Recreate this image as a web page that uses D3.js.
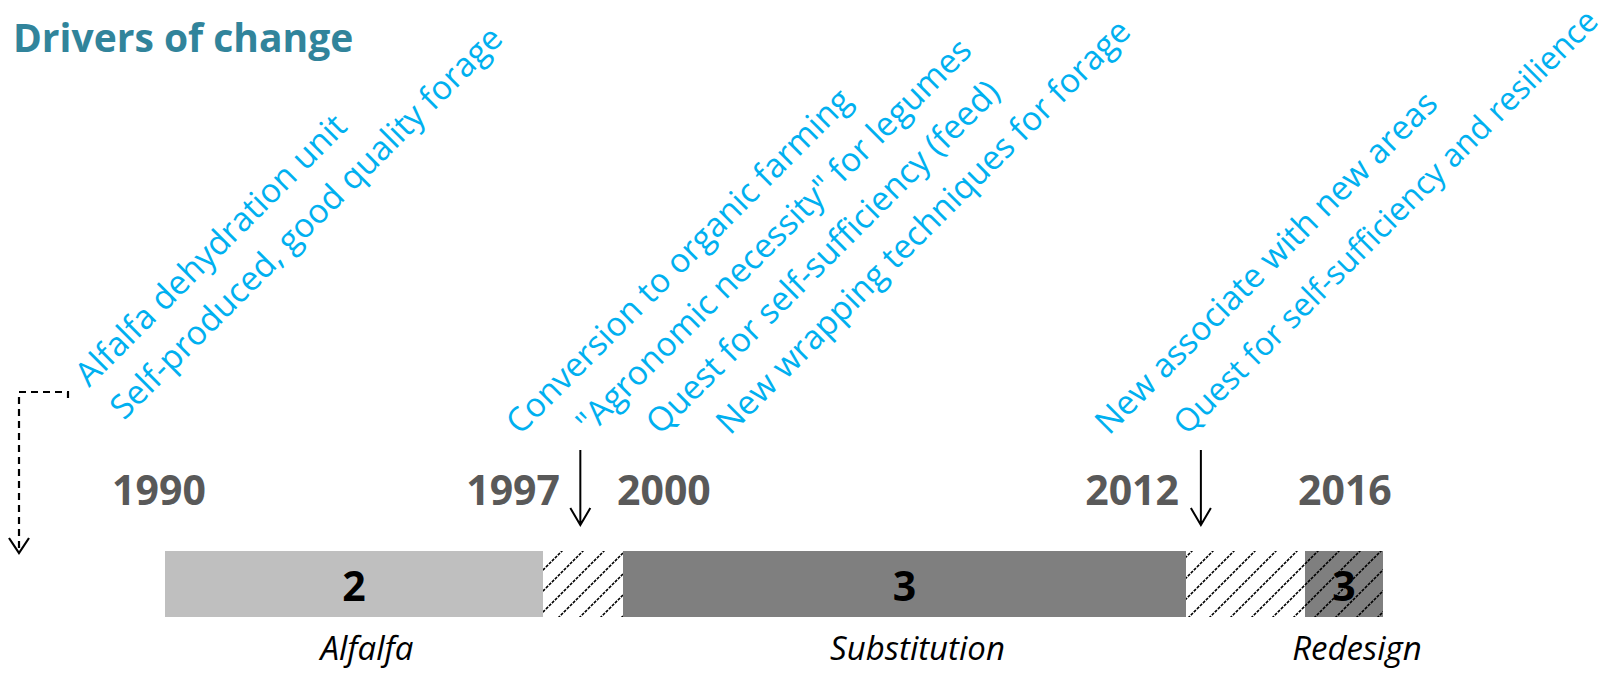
<!DOCTYPE html>
<html>
<head>
<meta charset="utf-8">
<script src="https://cdn.jsdelivr.net/npm/d3@7"></script>
<style>
  body { margin: 0; background: #fff; }
  svg { display: block; }
  text { font-family: "Open Sans", sans-serif; }
</style>
</head>
<body>
<div id="chart"></div>
<script>
// Data
const phases = ["Alfalfa", "Substitution", "Redesign"];
const phaseStart = [1990, 2000, 2016];
const phaseEnd = [1997, 2012, 2018];
const phaseScore = [2, 3, 3];
const phaseHatched = [false, false, true];
const transitionStart = [1997, 2012];
const transitionEnd = [2000, 2016];
const yearTicks = [1990, 1997, 2000, 2012, 2016];
const arrowYears = [1998.4, 2012.5];

const driversAlfalfa = ["Alfalfa dehydration unit",
                        "Self-produced, good quality forage"];
const driversSubstitution = ["Conversion to organic farming",
                             "\"Agronomic necessity\" for legumes",
                             "Quest for self-sufficiency (feed)",
                             "New wrapping techniques for forage"];
const driversRedesign = ["New associate with new areas",
                         "Quest for self-sufficiency and resilience"];

// Constants for layout
const FRAME_WIDTH = 1608;
const FRAME_HEIGHT = 673;
const BAR_TOP = 551;
const BAR_HEIGHT = 66;
const PHASE_COLORS = ["#bfbfbf", "#7f7f7f", "#7f7f7f"];
const DRIVER_SIZE = 33.5;

const FRAME = d3.select("#chart")
                .append("svg")
                  .attr("width", FRAME_WIDTH)
                  .attr("height", FRAME_HEIGHT);

// timeline is not proportional in the original, so piecewise scale
const X_SCALE = d3.scaleLinear()
                  .domain([...yearTicks, d3.max(phaseEnd)])
                  .range([165, 543, 623, 1186, 1305, 1383]);

// Hatch pattern
const defs = FRAME.append("defs");
defs.append("pattern")
      .attr("id", "hatch")
      .attr("patternUnits", "userSpaceOnUse")
      .attr("width", 21)
      .attr("height", 21)
    .append("path")
      .attr("d", "M0,21 L21,0 M-6,6 L6,-6 M15,27 L27,15")
      .attr("stroke", "#000")
      .attr("stroke-width", 1.6)
      .attr("stroke-dasharray", "3 1.2");

// Title
FRAME.append("text")
      .attr("x", 13)
      .attr("y", 52)
      .attr("font-size", "39px")
      .attr("font-weight", "bold")
      .attr("fill", "#31849b")
      .text("Drivers of change");

// Transition bars (hatched)
FRAME.selectAll(".transition")
      .data(transitionStart)
      .enter()
      .append("rect")
        .attr("class", "transition")
        .attr("x", d => X_SCALE(d))
        .attr("width", (d, i) => X_SCALE(transitionEnd[i]) - X_SCALE(d))
        .attr("y", BAR_TOP)
        .attr("height", BAR_HEIGHT)
        .attr("fill", "url(#hatch)");

// Phase bars
FRAME.selectAll(".phase")
      .data(phases)
      .enter()
      .append("rect")
        .attr("class", "phase")
        .attr("x", (d, i) => X_SCALE(phaseStart[i]))
        .attr("width", (d, i) => X_SCALE(phaseEnd[i]) - X_SCALE(phaseStart[i]))
        .attr("y", BAR_TOP)
        .attr("height", BAR_HEIGHT)
        .attr("fill", (d, i) => PHASE_COLORS[i]);

FRAME.selectAll(".phaseHatch")
      .data(phases.filter((d, i) => phaseHatched[i]))
      .enter()
      .append("rect")
        .attr("x", d => X_SCALE(phaseStart[phases.indexOf(d)]))
        .attr("width", d => X_SCALE(phaseEnd[phases.indexOf(d)]) - X_SCALE(phaseStart[phases.indexOf(d)]))
        .attr("y", BAR_TOP)
        .attr("height", BAR_HEIGHT)
        .attr("fill", "url(#hatch)");

// Scores inside bars
FRAME.selectAll(".score")
      .data(phaseScore)
      .enter()
      .append("text")
        .attr("x", (d, i) => (X_SCALE(phaseStart[i]) + X_SCALE(phaseEnd[i])) / 2)
        .attr("y", BAR_TOP + 50)
        .attr("text-anchor", "middle")
        .attr("font-size", "41px")
        .attr("font-weight", "bold")
        .attr("fill", "#000")
        .text(d => d);

// Phase names
FRAME.selectAll(".phaseName")
      .data(phases)
      .enter()
      .append("text")
        .attr("x", (d, i) => (X_SCALE(phaseStart[i]) + X_SCALE(phaseEnd[i])) / 2 + 13)
        .attr("y", 660)
        .attr("text-anchor", "middle")
        .attr("font-size", "33px")
        .attr("font-style", "italic")
        .attr("fill", "#000")
        .text(d => d);

// Year labels
const yearAnchor = ["middle", "end", "start", "end", "start"];
const yearShift = [-6, 17, -6, -7, -7];
FRAME.selectAll(".year")
      .data(yearTicks)
      .enter()
      .append("text")
        .attr("x", (d, i) => X_SCALE(d) + yearShift[i])
        .attr("y", 505)
        .attr("text-anchor", (d, i) => yearAnchor[i])
        .attr("font-size", "41px")
        .attr("font-weight", "bold")
        .attr("fill", "#595959")
        .text(d => d);

// Arrows pointing at the transitions
const ARROW_TOP = 450;
const ARROW_TIP = 525;
FRAME.selectAll(".arrow")
      .data(arrowYears)
      .enter()
      .append("path")
        .attr("d", d => {
          const x = X_SCALE(d);
          return "M" + x + "," + ARROW_TOP + " V" + ARROW_TIP +
                 " M" + (x - 10) + "," + (ARROW_TIP - 17) + " L" + x + "," + ARROW_TIP +
                 " L" + (x + 10) + "," + (ARROW_TIP - 17);
        })
        .attr("fill", "none")
        .attr("stroke", "#000")
        .attr("stroke-width", 2);

// Dashed arrow on the left
FRAME.append("path")
      .attr("d", "M68,398 V392 H19 V551")
      .attr("fill", "none")
      .attr("stroke", "#000")
      .attr("stroke-width", 2.2)
      .attr("stroke-dasharray", "7 5");
FRAME.append("path")
      .attr("d", "M9,538 L19,553 L29,538")
      .attr("fill", "none")
      .attr("stroke", "#000")
      .attr("stroke-width", 2.2);

// Drivers (rotated text)
const driverGroups = [
  {lines: driversAlfalfa, x: 89, y: 388, dx: 35, dy: 33},
  {lines: driversSubstitution, x: 520, y: 436, dx: 70, dy: 0},
  {lines: driversRedesign, x: 1109, y: 436, dx: 78, dy: 0}
];

driverGroups.forEach(g => {
  FRAME.selectAll(null)
        .data(g.lines)
        .enter()
        .append("text")
          .attr("transform", (d, i) => "translate(" + (g.x + i * g.dx) + "," +
                (g.y + i * g.dy) + ") rotate(-45)")
          .attr("font-size", DRIVER_SIZE + "px")
          .attr("fill", "#00b0f0")
          .text(d => d)
          .each(function(d, i) {
            // shrink a line if it would run past the right edge
            const x0 = g.x + i * g.dx;
            const maxLen = (FRAME_WIDTH - 8 - x0) / Math.SQRT1_2;
            const len = this.getComputedTextLength();
            if (len > maxLen) {
              d3.select(this).attr("font-size", (DRIVER_SIZE * maxLen / len) + "px");
            }
          });
});
</script>
</body>
</html>
